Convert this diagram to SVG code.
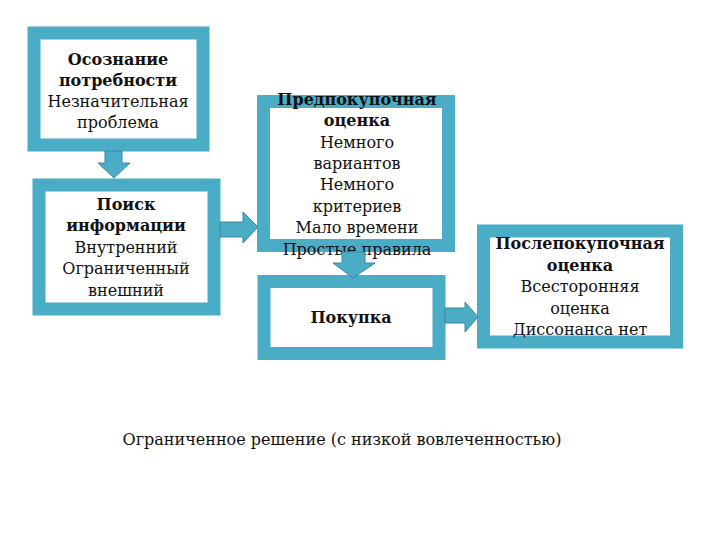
<svg xmlns="http://www.w3.org/2000/svg" width="720" height="540" viewBox="0 0 720 540">
<style>
.box{fill:#ffffff;stroke:#4BACC6;stroke-width:13}
.arr{fill:#4BACC6;stroke:#3A89A1;stroke-width:1}
text{font-family:"DejaVu Serif","Liberation Serif",serif;font-size:16px;fill:#111;text-anchor:middle}
.b{font-weight:bold}
</style>
<rect width="720" height="540" fill="#ffffff"/>
<g id="need">
<rect class="box" x="34" y="33" width="169" height="112"/>
<text x="118" y="65" class="b">Осознание</text>
<text x="118" y="86" class="b">потребности</text>
<text x="118" y="107">Незначительная</text>
<text x="118" y="128">проблема</text>
</g>
<g id="search">
<rect class="box" x="39" y="185" width="175" height="124"/>
<text x="126" y="210" class="b">Поиск</text>
<text x="126" y="231" class="b">информации</text>
<text x="126" y="253">Внутренний</text>
<text x="126" y="274">Ограниченный</text>
<text x="126" y="296">внешний</text>
</g>
<g id="prepurchase">
<rect class="box" x="263.500" y="101.500" width="185" height="144"/>
<text x="357" y="105" class="b">Предпокупочная</text>
<text x="357" y="126" class="b">оценка</text>
<text x="357" y="148">Немного</text>
<text x="357" y="169">вариантов</text>
<text x="357" y="190">Немного</text>
<text x="357" y="212">критериев</text>
<text x="357" y="233">Мало времени</text>
<text x="357" y="255">Простые правила</text>
</g>
<g id="purchase">
<rect class="box" x="264" y="281.500" width="175" height="72"/>
<text x="351" y="323" class="b">Покупка</text>
</g>
<g id="postpurchase">
<rect class="box" x="483.500" y="231" width="193" height="111"/>
<text x="580" y="249" class="b">Послепокупочная</text>
<text x="580" y="271" class="b">оценка</text>
<text x="580" y="292">Всесторонняя</text>
<text x="580" y="314">оценка</text>
<text x="580" y="335">Диссонанса нет</text>
</g>
<g id="connectors">
<polygon class="arr" points="105,151 122,151 122,163 130,163 114,178 98,163 105,163"/>
<polygon class="arr" points="220,222 243,222 243,212 258,227 243,243 243,237 220,237"/>
<polygon class="arr" points="342,252 365,252 365,263 375,263 353,278 333,263 342,263"/>
<polygon class="arr" points="445,308 465,308 465,302 478,317 465,332 465,323 445,323"/>
</g>
<text x="342" y="445">Ограниченное решение (с низкой вовлеченностью)</text>
</svg>
